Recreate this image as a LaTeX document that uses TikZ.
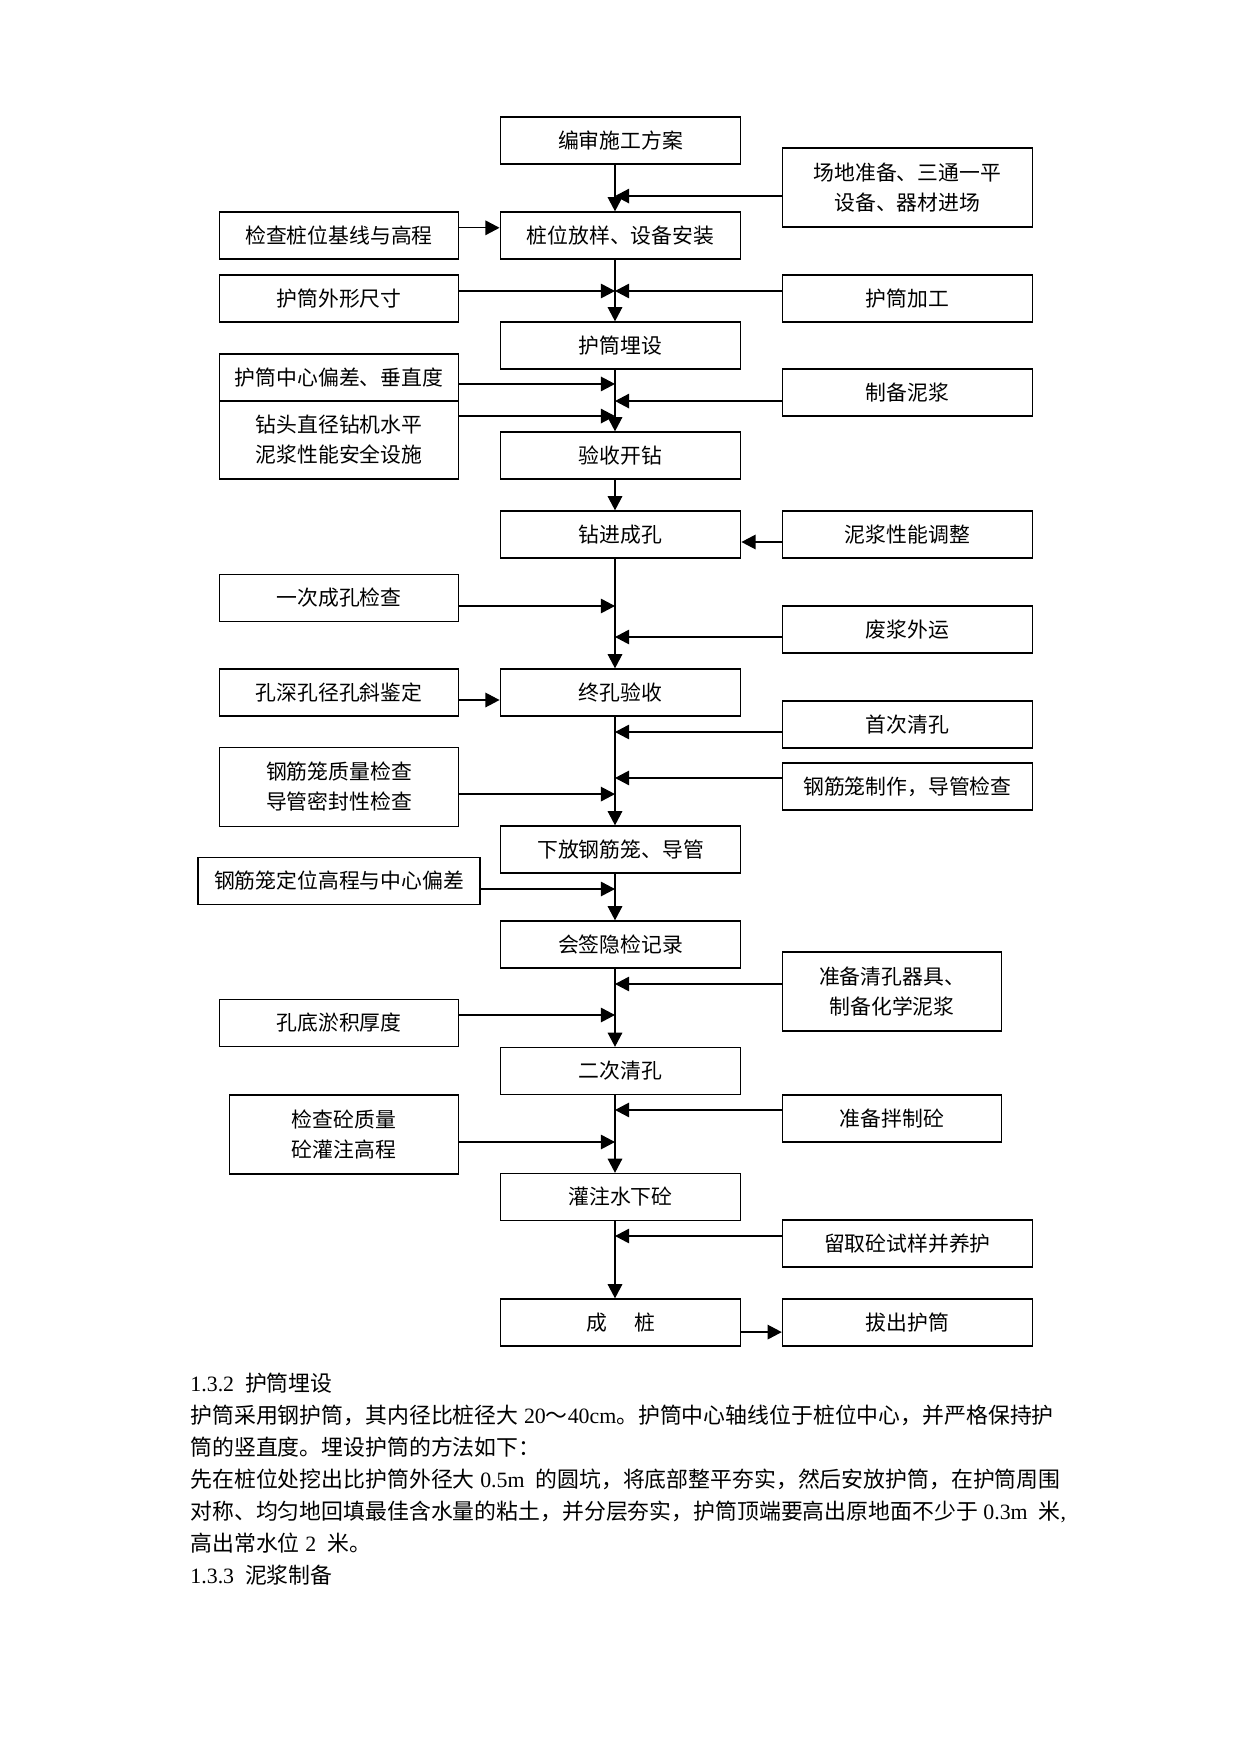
\documentclass[tikz,border=0pt]{standalone}
\usepackage{fontspec}
\setmainfont{Liberation Serif}
\newfontfamily\cjk{Noto Sans CJK SC}
\newcommand\zh[1]{{\cjk #1}}
\usetikzlibrary{positioning,arrows.meta}

\tikzset{
  box/.style={draw, line width=0.6pt, align=center, inner sep=1pt,
    minimum width=115.5pt, minimum height=22.6pt,
    font={\cjk\fontsize{10pt}{14.4pt}\selectfont}},
  tall/.style={minimum height=37.9pt},
  side/.style={minimum width=114.9pt},
  rside/.style={minimum width=120pt},
  narrow/.style={minimum width=105.3pt},
  arr/.style={line width=0.6pt, -{Triangle[length=6.8pt,width=7pt]}},
  para/.style={anchor=base west, inner sep=0pt, font=\fontsize{10.5pt}{14pt}\selectfont}
}

\begin{document}
\begin{tikzpicture}[x=0.48pt,y=-0.48pt]
  \useasboundingbox (0,0) rectangle (1241,1754);
  \coordinate (spine) at (615,0);

  % main column
  \node[box] (c1) at (620.5,140.5) {编审施工方案};
  \node[box] (c2) at (620.5,235.5) {桩位放样、设备安装};
  \node[box] (c3) at (620.5,345.5) {护筒埋设};
  \node[box] (c4) at (620.5,455.5) {验收开钻};
  \node[box] (c5) at (620.5,534.5) {钻进成孔};
  \node[box] (c6) at (620.5,692.5) {终孔验收};
  \node[box] (c7) at (620.5,849.5) {下放钢筋笼、导管};
  \node[box] (c8) at (620.5,944.5) {会签隐检记录};
  \node[box] (c9) at (620.5,1071) {二次清孔};
  \node[box] (c10) at (620.5,1197) {灌注水下砼};
  \node[box] (c11) at (620.5,1322.5) {成\hspace{1.3em}桩};

  % checks on the left
  \node[box,side] (l1) at (339,235.5) {检查桩位基线与高程};
  \node[box,side] (l2) at (339,298.5) {护筒外形尺寸};
  \node[box,side] (l3) at (339,377.5) {护筒中心偏差、垂直度};
  \node[box,side,minimum height=37.4pt] (l4) at (339,440) {钻头直径钻机水平\\泥浆性能安全设施};
  \node[box,side] (l5) at (339,598) {一次成孔检查};
  \node[box,side] (l6) at (339,692.5) {孔深孔径孔斜鉴定};
  \node[box,side,tall] (l7) at (339,787) {钢筋笼质量检查\\导管密封性检查};
  \node[box,minimum width=135.4pt] (l8) at (339,881) {钢筋笼定位高程与中心偏差};
  \node[box,side] (l9) at (339,1023) {孔底淤积厚度};
  \node[box,tall,minimum width=110.1pt] (l10) at (344,1134.5) {检查砼质量\\砼灌注高程};

  % preparation on the right
  \node[box,rside,tall] (r1) at (907.4,187.5) {场地准备、三通一平\\设备、器材进场};
  \node[box,rside] (r2) at (907.4,298.5) {护筒加工};
  \node[box,rside] (r3) at (907.4,392.5) {制备泥浆};
  \node[box,rside] (r4) at (907.4,534.5) {泥浆性能调整};
  \node[box,rside] (r5) at (907.4,629.5) {废浆外运};
  \node[box,rside] (r6) at (907.4,724.5) {首次清孔};
  \node[box,rside] (r7) at (907.4,786.5) {钢筋笼制作，导管检查};
  \node[box,narrow,tall] (r8) at (892,991.5) {准备清孔器具、\\制备化学泥浆};
  \node[box,narrow] (r9) at (892,1118.5) {准备拌制砼};
  \node[box,rside] (r10) at (907.4,1243.5) {留取砼试样并养护};
  \node[box,rside] (r11) at (907.4,1322.5) {拔出护筒};

  \foreach \from/\to in {c1/c2, c2/c3, c3/c4, c4/c5, c5/c6, c6/c7, c7/c8, c8/c9, c9/c10, c10/c11}
    \draw[arr] (\from.south -| spine) -- (\to.north -| spine);

  \foreach \from/\sh in {l2/3.6pt, l3/-3.1pt, l4/11.5pt, l5/-3.84pt, l7/-3.4pt, l8/-3.84pt, l9/3.84pt, l10/-3.6pt}
    \draw[arr] ([yshift=\sh]\from.east) -- ([yshift=\sh]\from.east -| spine);

  \foreach \from/\sh in {r1/-4.1pt, r2/3.6pt, r3/-4.1pt, r5/-3.6pt, r6/-3.6pt, r7/4.1pt, r8/3.6pt, r9/4.1pt, r10/3.6pt}
    \draw[arr] ([yshift=\sh]\from.west) -- ([yshift=\sh]\from.west -| spine);

  \draw[arr] ([yshift=3.7pt]l1.east) -- ([yshift=3.7pt]c2.west);
  \draw[arr] ([yshift=-3.6pt]l6.east) -- ([yshift=-3.6pt]c6.west);
  \draw[arr] ([yshift=-3.6pt]r4.west) -- ([yshift=-3.6pt]c5.east);
  \draw[arr] ([yshift=-4.6pt]c11.east) -- ([yshift=-4.6pt]r11.west);

  % text below the chart
  \node[para] (t1) at (190,1391) {1.3.2\ \ \zh{护筒埋设}};
  \node[para] (t2) at (190,1423) {\zh{护筒采用钢护筒，其内径比桩径大} 20\zh{～}40cm\zh{。护筒中心轴线位于桩位中心，并严格保持护}};
  \node[para] (t3) at (190,1455) {\zh{筒的竖直度。埋设护筒的方法如下：}};
  \node[para] (t4) at (190,1487) {\zh{先在桩位处挖出比护筒外径大} 0.5m\ \ \zh{的圆坑，将底部整平夯实，然后安放护筒，在护筒周围}};
  \node[para] (t5) at (190,1519) {\zh{对称、均匀地回填最佳含水量的粘土，并分层夯实，护筒顶端要高出原地面不少于} 0.3m\ \ \zh{米},};
  \node[para] (t6) at (190,1551) {\zh{高出常水位} 2\ \ \zh{米。}};
  \node[para] (t7) at (190,1583) {1.3.3\ \ \zh{泥浆制备}};
\end{tikzpicture}
\end{document}
